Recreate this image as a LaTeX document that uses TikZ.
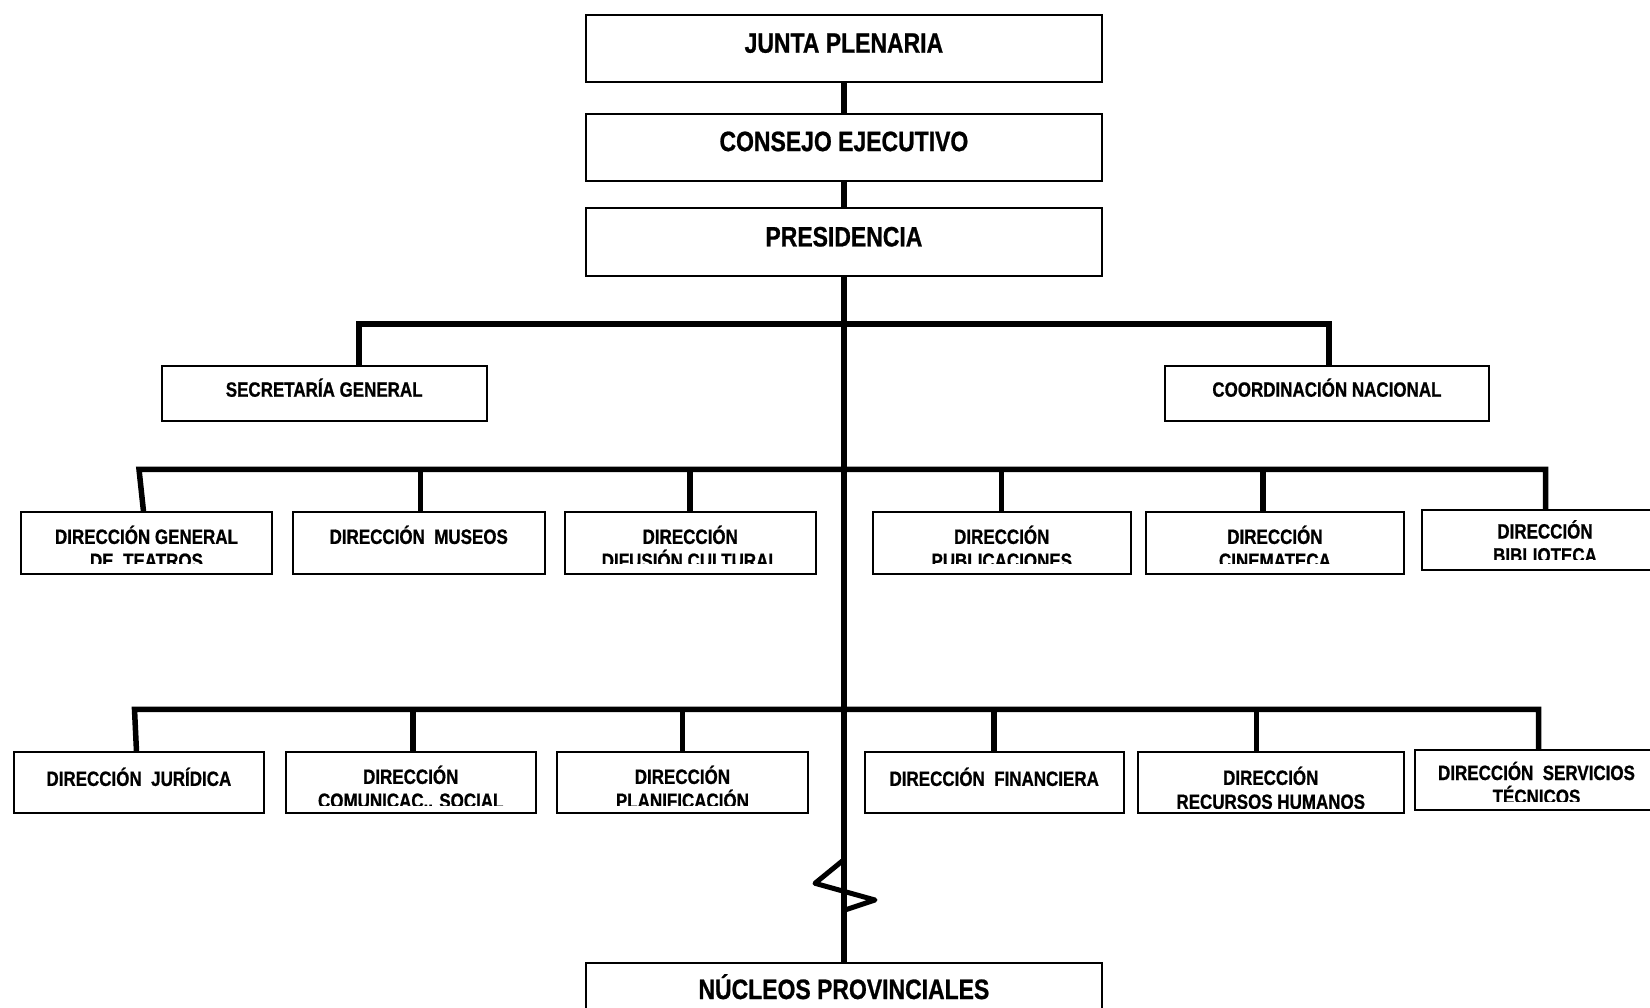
\documentclass[tikz,border=0pt]{standalone}
\usepackage{fontspec}
\newfontfamily\orgfont{Liberation Sans}[FakeStretch=0.82,FakeBold=0.8]
\usetikzlibrary{calc}

\tikzset{
  orgbox/.style={draw=black, line width=2pt, inner sep=0pt},
  wire/.style={line width=5.5pt, line join=miter, line cap=butt},
  lbl/.style={inner sep=0pt, font=\orgfont\bfseries\fontsize{20.7}{24}\selectfont},
  biglbl/.style={inner sep=0pt, font=\orgfont\bfseries\fontsize{28}{32}\selectfont},
}

% gap between the text clip and the lower edge of a unit box
\def\clipgap{10}

% unit box: name, left, top, right, bottom, first baseline offset, line 1, line 2
\newcommand\orgunit[8]{%
  \node[orgbox, minimum width={(#4)-(#2)}, minimum height={(#5)-(#3)}]
    (#1) at ({((#2)+(#4))/2},{((#3)+(#5))/2}) {};
  \begin{scope}
    \clip (#2,#3) rectangle (#4,{(#5)-\clipgap});
    \node[lbl, anchor=base] (#1-l1) at ({((#2)+(#4))/2},{(#3)+(#6)}) {#7};
    \if\relax\detokenize{#8}\relax\else
      \node[lbl, anchor=base] (#1-l2) at ({((#2)+(#4))/2},{(#3)+(#6)+24}) {#8};
    \fi
  \end{scope}}

% governing body box: name, left, top, right, bottom, baseline offset, text
\newcommand\govunit[7]{%
  \node[orgbox, minimum width={(#4)-(#2)}, minimum height={(#5)-(#3)}]
    (#1) at ({((#2)+(#4))/2},{((#3)+(#5))/2}) {};
  \node[biglbl, anchor=base] (#1-l1) at ({((#2)+(#4))/2},{(#3)+(#6)}) {#7};}

\begin{document}
\begin{tikzpicture}[x=1pt, y=-1pt]
\useasboundingbox (0,0) rectangle (1650,1008);
\clip (0,0) rectangle (1650,1008);

% governing bodies
\govunit{junta}{586}{14.7}{1101.8}{82}{38}{JUNTA PLENARIA}
\govunit{consejo}{586}{113.6}{1101.8}{181}{37.5}{CONSEJO EJECUTIVO}
\govunit{pres}{586}{208.4}{1101.8}{275.7}{38}{PRESIDENCIA}
\govunit{nucleos}{586}{963}{1101.8}{1040}{36}{NÚCLEOS PROVINCIALES}

% staff units
\orgunit{sec}{161.7}{366}{486.7}{420.7}{30.7}{SECRETARÍA GENERAL}{}
\orgunit{coord}{1164.9}{366}{1489}{420.7}{30.7}{COORDINACIÓN NACIONAL}{}

% first row of directorates
\orgunit{teatros}{21}{512.4}{272}{573.5}{31.5}{DIRECCIÓN GENERAL}{DE~~TEATROS}
\orgunit{museos}{293}{512.4}{544.5}{573.5}{31.5}{DIRECCIÓN~~MUSEOS}{}
\orgunit{difusion}{564.5}{512.4}{816}{573.5}{31.5}{DIRECCIÓN}{DIFUSIÓN CULTURAL}
\orgunit{publ}{873}{512.4}{1130.5}{573.5}{31.5}{DIRECCIÓN}{PUBLICACIONES}
\orgunit{cine}{1145.6}{512.4}{1404.3}{573.5}{31.5}{DIRECCIÓN}{CINEMATECA}
\orgunit{biblio}{1422}{510}{1668}{569.5}{28.5}{DIRECCIÓN}{BIBLIOTECA}

% second row of directorates
\def\clipgap{8}
\orgunit{juridica}{13.5}{752.4}{264.3}{813}{33.5}{DIRECCIÓN~~JURÍDICA}{}
\orgunit{comsoc}{285.5}{752.4}{536}{813}{31.5}{DIRECCIÓN}{COMUNICAC.. SOCIAL}
\orgunit{planif}{556.7}{752.4}{808.2}{813}{31.5}{DIRECCIÓN}{PLANIFICACIÓN}
\orgunit{finan}{864.8}{752.4}{1123.7}{813}{33.5}{DIRECCIÓN~~FINANCIERA}{}
\def\clipgap{5}
\orgunit{rrhh}{1138}{752.4}{1403.5}{813}{32.5}{DIRECCIÓN}{RECURSOS HUMANOS}
\def\clipgap{9}
\orgunit{servtec}{1415}{750}{1658}{810}{30}{DIRECCIÓN~~SERVICIOS}{TÉCNICOS}
\def\clipgap{10}

% main chain of command
\draw[wire] (junta) -- (consejo);
\draw[wire] (consejo) -- (pres);
\draw[wire] (pres) -- (nucleos);

% bus towards the staff units
\coordinate (bus2w) at (359,324);
\coordinate (bus2e) at (1329,324);
\draw[wire] (sec.north -| bus2w) -- (bus2w) -- (bus2e) -- (coord.north -| bus2e);

% bus towards the first row of directorates
\coordinate (bus3w) at (139,469.3);
\coordinate (bus3e) at (1545.5,469.3);
\draw[wire] ([xshift=4.5pt]teatros.north -| bus3w) -- (bus3w) -- (bus3e) -- (biblio.north -| bus3e);
\foreach \n/\x in {museos/420.5, difusion/690, publ/1001.5, cine/1263}{
  \coordinate (drop-\n) at (\x,469.3);
  \draw[wire] (drop-\n) -- (\n.north -| drop-\n);
}

% bus towards the second row of directorates
\coordinate (bus4w) at (134.5,709.3);
\coordinate (bus4e) at (1538.5,709.3);
\draw[wire] ([xshift=2pt]juridica.north -| bus4w) -- (bus4w) -- (bus4e) -- (servtec.north -| bus4e);
\foreach \n/\x in {comsoc/413, planif/682.3, finan/994, rrhh/1256.5}{
  \coordinate (drop-\n) at (\x,709.3);
  \draw[wire] (drop-\n) -- (\n.north -| drop-\n);
}

% break mark on the line to the provincial branches
\draw[line width=5pt, line join=round, line cap=round]
  (843.5,860) -- (815,883.3) -- (875,900) -- (845,910);
\end{tikzpicture}
\end{document}
